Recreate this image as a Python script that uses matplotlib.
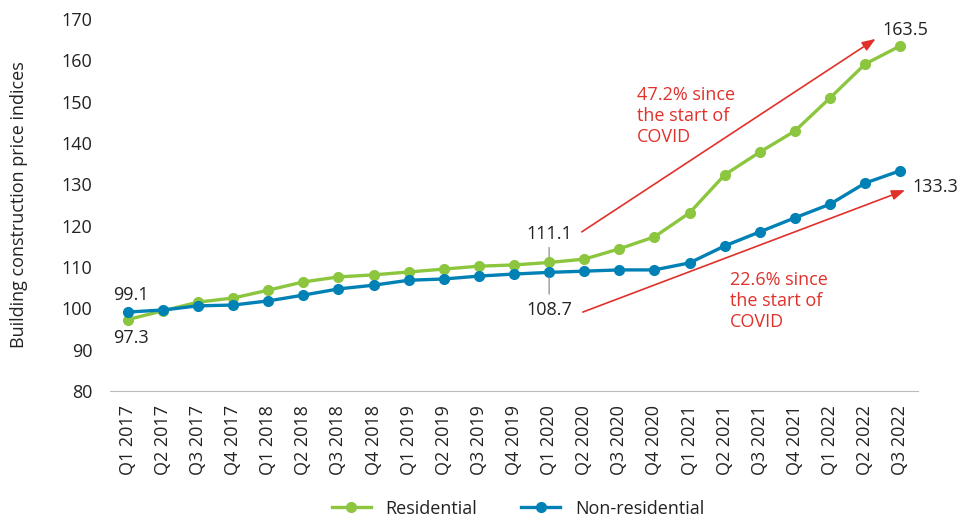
import matplotlib.pyplot as plt

plt.rcParams['font.family'] = ['Open Sans', 'DejaVu Sans']

# quarters and index values
quarters = ['Q1 2017', 'Q2 2017', 'Q3 2017', 'Q4 2017', 'Q1 2018', 'Q2 2018',
            'Q3 2018', 'Q4 2018', 'Q1 2019', 'Q2 2019', 'Q3 2019', 'Q4 2019',
            'Q1 2020', 'Q2 2020', 'Q3 2020', 'Q4 2020', 'Q1 2021', 'Q2 2021',
            'Q3 2021', 'Q4 2021', 'Q1 2022', 'Q2 2022', 'Q3 2022']
residential = [97.3, 99.4, 101.5, 102.5, 104.4, 106.4, 107.6, 108.1, 108.8, 109.5,
               110.2, 110.5, 111.1, 111.9, 114.4, 117.3, 123.1, 132.3, 137.8,
               142.9, 150.9, 159.1, 163.5]
non_residential = [99.1, 99.6, 100.6, 100.8, 101.8, 103.2, 104.7, 105.6, 106.8, 107.1,
                   107.8, 108.3, 108.7, 109.0, 109.3, 109.3, 111.0, 115.1, 118.5,
                   121.9, 125.2, 130.3, 133.3]

green = '#8CC63F'
blue = '#0081B5'
red = '#E0312B'
dark = '#222222'
fs = 13
x = list(range(len(quarters)))

fig = plt.figure(figsize=(9.59, 5.21), dpi=100)
ax = fig.add_axes([0.115, 0.2495, 0.842, 0.714])

ax.plot(x, residential, color=green, lw=2.4, marker='o', ms=7, label='Residential', zorder=3)
ax.plot(x, non_residential, color=blue, lw=2.4, marker='o', ms=7, label='Non-residential', zorder=3)

ax.set_xlim(-0.5, 22.5)
ax.set_ylim(80, 170)
ax.set_yticks(range(80, 171, 10))
ax.set_xticks(x)
ax.set_xticklabels(quarters, rotation=90)
ax.tick_params(axis='both', length=0, labelsize=fs, colors=dark)
ax.tick_params(axis='y', pad=13)
ax.tick_params(axis='x', pad=10)
ax.set_ylabel('Building construction price indices', fontsize=fs, color=dark, labelpad=24)
for s in ['top', 'right', 'left']:
    ax.spines[s].set_visible(False)
ax.spines['bottom'].set_color('#BBBBBB')

# value labels
ax.text(0.1, 103.2, '99.1', fontsize=fs, ha='center', va='center', color=dark)
ax.text(0.1, 92.8, '97.3', fontsize=fs, ha='center', va='center', color=dark)
ax.text(22.15, 165.2, '163.5', fontsize=fs, ha='center', va='bottom', color=dark)
ax.text(22.35, 129.3, '133.3', fontsize=fs, ha='left', va='center', color=dark)
ax.annotate('111.1', xy=(12, residential[12] + 1.3), xytext=(12, 117.9),
            fontsize=fs, ha='center', va='center', color=dark,
            arrowprops=dict(arrowstyle='-', color='#999999', lw=1, shrinkA=1, shrinkB=0))
ax.annotate('108.7', xy=(12, non_residential[12] - 1.3), xytext=(12, 99.6),
            fontsize=fs, ha='center', va='center', color=dark,
            arrowprops=dict(arrowstyle='-', color='#999999', lw=1, shrinkA=3, shrinkB=0))

# COVID arrows
ax.annotate('', xy=(21.3, 165.2), xytext=(12.93, 118.5),
            arrowprops=dict(arrowstyle='-|>,head_length=0.8,head_width=0.3', color=red, lw=1.2,
                            shrinkA=0, shrinkB=0))
ax.annotate('', xy=(22.14, 128.6), xytext=(12.96, 99.1),
            arrowprops=dict(arrowstyle='-|>,head_length=0.8,head_width=0.3', color=red, lw=1.2,
                            shrinkA=0, shrinkB=0))
ax.text(14.5, 153.8, '47.2% since\nthe start of\nCOVID', fontsize=fs, color=red,
        ha='left', va='top', linespacing=1.2)
ax.text(17.15, 109.0, '22.6% since\nthe start of\nCOVID', fontsize=fs, color=red,
        ha='left', va='top', linespacing=1.2)

fig.legend(loc='lower center', bbox_to_anchor=(0.54, -0.025), ncol=2, frameon=False,
           fontsize=fs, handlelength=2.2, columnspacing=2.4, labelcolor=dark)

fig.savefig('out.png', dpi=100)
